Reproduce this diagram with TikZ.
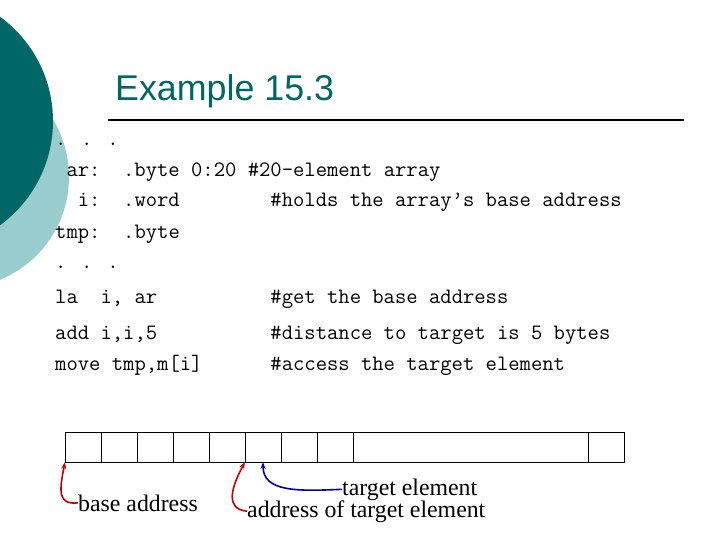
\documentclass[tikz,border=0pt]{standalone}
\usepackage{fontspec}
\setmainfont{Liberation Serif}
\setsansfont{Liberation Sans}
\usepackage{tikz}
\usetikzlibrary{arrows.meta}
\definecolor{tealdark}{RGB}{0,102,102}
\definecolor{teallight}{RGB}{153,204,204}
\definecolor{markred}{RGB}{204,0,0}
\definecolor{markblue}{RGB}{0,0,170}

\begin{document}
\begin{tikzpicture}[
  x=1pt, y=-1pt,
  titletext/.style={anchor=base west, inner sep=0pt, text=tealdark,
                    font=\sffamily\fontsize{35.8}{40}\selectfont},
  codeline/.style={anchor=base west, inner sep=0pt,
                   font=\ttfamily\frenchspacing\fontsize{22}{24}\selectfont},
  cellbox/.style={draw, line width=0.8pt, inner sep=0pt, outer sep=0pt,
                  anchor=north west, minimum width=36pt, minimum height=30pt},
  notetext/.style={anchor=base west, inner sep=0pt,
                   font=\rmfamily\fontsize{23.8}{26}\selectfont},
  redarrow/.style={-{Stealth[length=7pt, width=5pt]}, line width=1.6pt,
                   draw=markred},
  bluearrow/.style={-{Stealth[length=7pt, width=5pt]}, line width=1.6pt,
                    draw=markblue},
]
\useasboundingbox (0,0) rectangle (720,540);

% =================================================================
%  BACKGROUND — CIRCLES AND TITLE
% =================================================================
\begin{scope}
  \clip (0,0) rectangle (720,540);
  \fill[teallight] (-42,177) circle[radius=111pt];
  \fill[tealdark] (-76,121) circle[radius=129pt];
\end{scope}

\node[titletext] (title) at (115,101) {Example 15.3};
\draw[line width=1.6pt] (108,120) -- (684,120);

% =================================================================
%  CODE LINES
% =================================================================
\node[codeline] (dots1) at (55,146) {.\hspace{14.7pt}.\hspace{14.7pt}.};
\node[codeline] (decl1) at (55,177)
  {~ar:~~.byte~0:20~\#20-element~array};
\node[codeline] (decl2) at (55,207)
  {~~i:~~.word~~~~~~~~\#holds~the~array’s~base~address};
\node[codeline] (decl3) at (55,238) {tmp:~~.byte};
\node[codeline] (dots2) at (55,268) {.\hspace{14.7pt}.\hspace{14.7pt}.};
\node[codeline] (inst1) at (55,303)
  {la~~i,~ar~~~~~~~~~~\#get~the~base~address};
\node[codeline] (inst2) at (55,339)
  {add~i,i,5~~~~~~~~~~\#distance~to~target~is~5~bytes};
\node[codeline] (inst3) at (55,370)
  {move~tmp,m[i]~~~~~~\#access~the~target~element};

% =================================================================
%  ARRAY CELLS
% =================================================================
\foreach \i in {1,...,8}
  \node[cellbox] (c\i) at ({65+36*(\i-1)},432) {};
\node[cellbox, minimum width=235pt] (cgap) at (353,432) {};
\node[cellbox] (clast) at (588,432) {};

% =================================================================
%  LABELS AND ARROWS
% =================================================================
\node[notetext] (base) at (78,511) {base address};
\node[notetext] (target) at (342,495) {target element};
\node[notetext] (addr) at (247,517) {address of target element};

\draw[redarrow] (base.west) .. controls +(-20,2) and +(-6,30) .. (c1.south west);
\draw[redarrow] (addr.west) .. controls +(-22,-2) and +(-14,26) .. (c6.south west);
\draw[bluearrow] (target.west) .. controls +(-45,2) and +(0,30) .. (c6.south);

\end{tikzpicture}
\end{document}
